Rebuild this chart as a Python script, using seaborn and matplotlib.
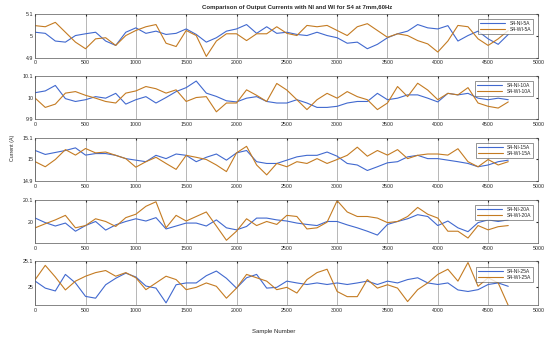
import numpy as np
import pandas as pd
import seaborn as sns
import matplotlib.pyplot as plt
from matplotlib.ticker import FixedLocator, FormatStrFormatter

# sample index grid the values were read on
sample = list(range(0, 4701, 100))

# 5A
ni_5 = [5.015, 5.01, 4.975, 4.97, 5.0, 5.008, 5.015, 4.975, 4.955, 5.015,
        5.035, 5.01, 5.02, 5.005, 5.01, 5.03, 5.005, 4.97, 4.99, 5.02,
        5.03, 5.05, 5.01, 5.04, 5.01, 5.015, 5.005, 5.0, 5.015, 5.0,
        4.99, 4.965, 4.97, 4.94, 4.96, 4.99, 5.008, 5.02, 5.05, 5.035,
        5.03, 5.045, 4.975, 5.0, 5.02, 4.985, 4.96, 5.005]
wi_5 = [5.045, 5.04, 5.06, 5.015, 4.97, 4.94, 4.985, 4.99, 4.955, 5.0,
        5.023, 5.04, 5.05, 4.965, 4.95, 5.023, 5.0, 4.905, 4.975, 5.008,
        5.008, 4.977, 5.008, 5.008, 5.04, 5.01, 5.0, 5.046, 5.04, 5.046,
        5.023, 5.0, 5.04, 5.054, 5.023, 4.992, 5.008, 5.0, 4.977, 4.962,
        4.925, 4.975, 5.046, 5.04, 4.985, 4.955, 4.985, 5.023]

# 10A
ni_10 = [10.022, 10.03, 10.055, 9.995, 9.982, 9.99, 10.004, 9.997, 10.019, 9.97,
         9.99, 10.004, 9.975, 10.0, 10.027, 10.045, 10.075, 10.02, 10.005, 9.985,
         9.98, 9.997, 10.004, 9.982, 9.975, 9.975, 9.99, 9.975, 9.955, 9.955,
         9.96, 9.975, 9.982, 9.982, 10.019, 9.99, 9.997, 10.012, 10.012, 9.997,
         9.98, 10.019, 10.012, 10.019, 9.997, 9.99, 9.997, 9.99]
wi_10 = [9.997, 9.955, 9.97, 10.02, 10.027, 10.01, 9.997, 9.982, 9.975, 10.02,
         10.03, 10.05, 10.04, 10.02, 10.035, 9.982, 10.0, 10.004, 9.935, 9.975,
         9.975, 10.035, 10.01, 9.982, 10.064, 10.034, 9.99, 9.945, 9.99, 10.019,
         9.997, 10.027, 10.004, 9.99, 9.945, 9.975, 10.05, 10.004, 10.065, 10.034,
         9.99, 10.019, 10.012, 10.045, 9.975, 9.96, 9.952, 9.98]

# 15A
ni_15 = [15.041, 15.023, 15.032, 15.041, 15.053, 15.02, 15.027, 15.027, 15.019, 15.004,
         14.997, 14.99, 15.019, 15.004, 15.025, 15.019, 14.99, 15.01, 15.025, 14.997,
         15.03, 15.041, 14.99, 14.982, 14.982, 14.997, 15.012, 15.019, 15.019, 15.034,
         15.015, 14.982, 14.975, 14.95, 14.967, 14.985, 14.99, 15.012, 15.019, 15.004,
         15.004, 14.997, 14.99, 14.982, 14.967, 14.975, 14.99, 14.997]
wi_15 = [14.99, 14.967, 15.0, 15.045, 15.02, 15.05, 15.03, 15.034, 15.019, 15.004,
         14.965, 14.99, 15.01, 14.982, 14.955, 15.019, 15.01, 15.0, 14.975, 14.945,
         15.03, 15.06, 14.975, 14.93, 14.982, 14.967, 14.99, 14.982, 15.004, 14.982,
         15.0, 15.019, 15.056, 15.015, 15.041, 15.02, 15.045, 15.004, 15.019, 15.025,
         15.025, 15.02, 15.049, 14.99, 14.967, 15.0, 14.975, 14.99]

# 20A
ni_20 = [20.018, 19.998, 19.983, 19.996, 19.96, 19.985, 20.003, 19.965, 19.988, 20.003,
         20.015, 20.005, 20.02, 19.97, 19.983, 19.996, 19.996, 19.983, 20.01, 19.975,
         19.966, 19.981, 20.018, 20.018, 20.01, 20.005, 19.996, 19.99, 19.985, 20.003,
         20.003, 19.988, 19.975, 19.96, 19.943, 19.99, 20.003, 20.015, 20.033, 20.025,
         19.985, 20.005, 19.975, 19.958, 19.998, 20.01, 20.003, 20.01]
wi_20 = [19.975, 19.993, 20.01, 20.03, 19.975, 19.985, 20.015, 20.003, 19.981, 20.02,
         20.035, 20.07, 20.09, 19.975, 20.03, 20.005, 20.025, 20.045, 19.983, 19.92,
         19.96, 20.015, 19.985, 20.003, 19.99, 20.03, 20.025, 19.97, 19.975, 20.0,
         20.095, 20.045, 20.025, 20.025, 20.018, 19.998, 20.003, 20.025, 20.065, 20.035,
         20.018, 19.96, 19.96, 19.93, 19.985, 19.966, 19.98, 19.985]

# 25A
ni_25 = [25.024, 24.997, 24.986, 25.05, 25.017, 24.965, 24.958, 25.01, 25.035, 25.055,
         25.04, 25.005, 24.997, 24.94, 25.01, 25.017, 25.017, 25.045, 25.063, 25.035,
         24.997, 25.037, 25.05, 24.997, 25.0, 25.024, 25.017, 25.011, 25.017, 25.011,
         25.017, 25.011, 25.017, 25.024, 25.011, 25.024, 25.017, 25.03, 25.037, 25.017,
         25.011, 25.017, 24.99, 24.984, 24.991, 25.011, 25.017, 25.004]
wi_25 = [25.03, 25.085, 25.04, 24.99, 25.024, 25.043, 25.057, 25.065, 25.043, 25.057,
         25.037, 24.991, 25.017, 25.043, 25.03, 24.991, 25.0, 25.017, 25.004, 24.958,
         24.997, 25.05, 25.037, 25.024, 24.991, 25.0, 24.978, 25.03, 25.057, 25.07,
         24.984, 24.964, 24.964, 25.03, 24.997, 25.01, 24.997, 24.945, 24.991, 25.017,
         25.05, 25.07, 25.024, 25.096, 25.004, 25.037, 25.017, 24.93]

levels = ['5A', '10A', '15A', '20A', '25A']
ni_all = [ni_5, ni_10, ni_15, ni_20, ni_25]
wi_all = [wi_5, wi_10, wi_15, wi_20, wi_25]
ylims = [(4.9, 5.1), (9.9, 10.1), (14.9, 15.1), (19.906, 20.1), (24.93, 25.1)]
yticks = [[4.9, 5, 5.1], [9.9, 10, 10.1], [14.9, 15, 15.1], [20, 20.1], [25, 25.1]]

sns.set_style('white')
plt.rcParams['font.family'] = ['Liberation Sans', 'DejaVu Sans']

fig, axes = plt.subplots(5, 1, figsize=(5.5, 3.39), dpi=100)
fig.subplots_adjust(left=0.064, right=0.979, top=0.960, bottom=0.099, hspace=0.41)

for ax, lvl, ni, wi, yl, yt in zip(axes, levels, ni_all, wi_all, ylims, yticks):
    df = pd.DataFrame({
        'sample': sample * 2,
        'current': ni + wi,
        'series': ['S4-NI-' + lvl] * len(ni) + ['S4-WI-' + lvl] * len(wi),
    })
    sns.lineplot(data=df, x='sample', y='current', hue='series', ax=ax,
                 palette=['#4169cf', '#c47b22'], linewidth=0.8)
    ax.set_xlim(0, 5000)
    ax.set_ylim(*yl)
    ax.xaxis.set_major_locator(FixedLocator(range(0, 5001, 500)))
    ax.yaxis.set_major_locator(FixedLocator(yt))
    ax.yaxis.set_major_formatter(FormatStrFormatter('%g'))
    ax.grid(axis='x', color='#9a9a9a', linewidth=0.5)
    ax.tick_params(labelsize=3.8, length=1.5, direction='in', pad=1.5,
                   top=True, right=True)
    for s in ax.spines.values():
        s.set_color('#555555')
        s.set_linewidth(0.5)
    ax.set_xlabel('')
    ax.set_ylabel('')
    leg = ax.legend(loc='upper right', fontsize=3.6, frameon=True, fancybox=False,
                    borderpad=0.4, handlelength=5, handletextpad=0.8,
                    labelspacing=0.3, bbox_to_anchor=(0.994, 0.94))
    leg.get_frame().set_edgecolor('#444444')
    leg.get_frame().set_linewidth(0.5)
    for t in leg.get_texts():
        t.set_ha('right')

fig.text(0.54, 0.979, 'Comparison of Output Currents with NI and WI for S4 at 7mm,60Hz',
         ha='center', va='center', fontsize=4.3, fontweight='bold')
fig.text(0.498, 0.023, 'Sample Number', ha='center', va='center', fontsize=4.3)
fig.text(0.022, 0.563, 'Current (A)', ha='center', va='center', fontsize=3.8,
         rotation=90)

fig.savefig('out.png', dpi=100)
